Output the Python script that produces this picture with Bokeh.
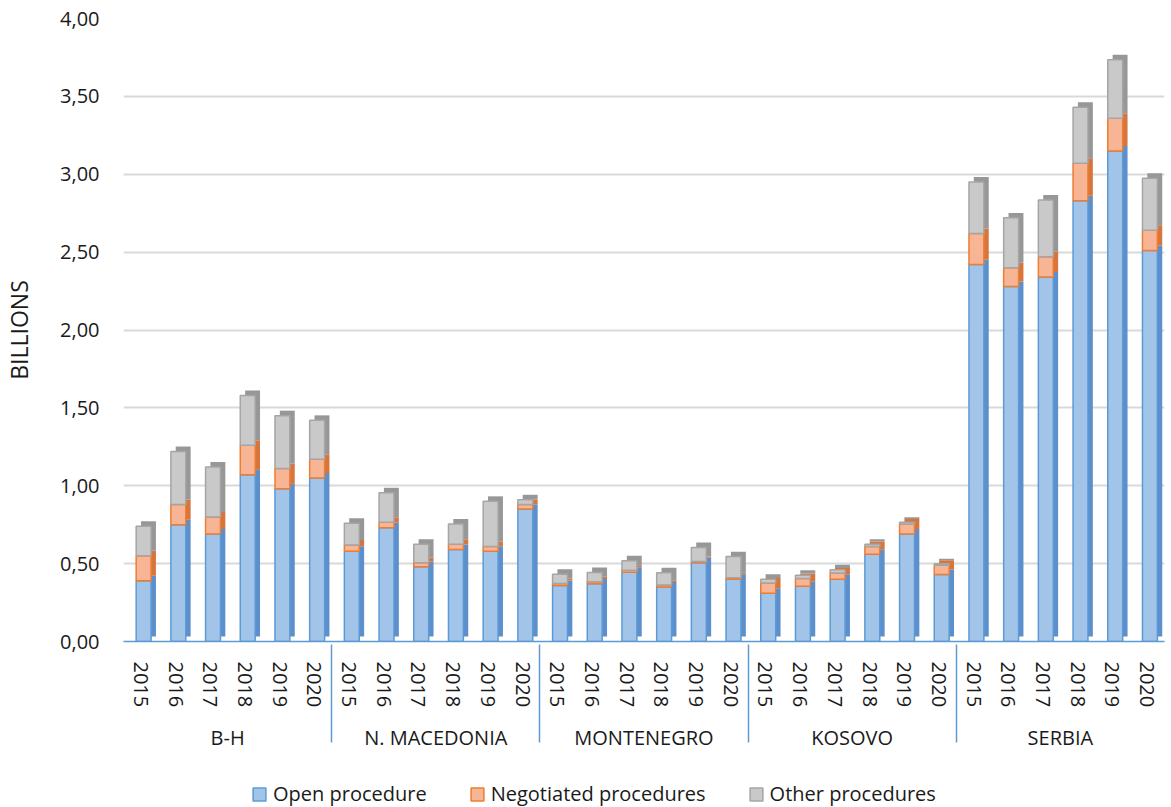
from bokeh.plotting import figure
from bokeh.layouts import column
from bokeh.models import (ColumnDataSource, FactorRange, Range1d, Legend, LegendItem,
                          CustomJSTickFormatter, SingleIntervalTicker)
from bokeh.transform import dodge
from bokeh.embed import file_html
from bokeh.resources import INLINE

countries = ["B-H", "N. MACEDONIA", "MONTENEGRO", "KOSOVO", "SERBIA"]
years = ["2015", "2016", "2017", "2018", "2019", "2020"]

open_procedure = [0.39, 0.75, 0.69, 1.07, 0.98, 1.05,
                  0.58, 0.73, 0.48, 0.59, 0.58, 0.85,
                  0.36, 0.37, 0.445, 0.35, 0.505, 0.40,
                  0.31, 0.355, 0.40, 0.56, 0.69, 0.43,
                  2.42, 2.28, 2.34, 2.83, 3.15, 2.51]
negotiated_procedures = [0.16, 0.13, 0.11, 0.19, 0.13, 0.12,
                         0.04, 0.035, 0.025, 0.035, 0.03, 0.03,
                         0.012, 0.013, 0.013, 0.012, 0.008, 0.01,
                         0.065, 0.05, 0.04, 0.05, 0.065, 0.06,
                         0.20, 0.12, 0.13, 0.24, 0.21, 0.13]
other_procedures = [0.19, 0.34, 0.32, 0.32, 0.34, 0.25,
                    0.14, 0.19, 0.12, 0.13, 0.29, 0.03,
                    0.06, 0.06, 0.06, 0.08, 0.09, 0.135,
                    0.025, 0.02, 0.02, 0.015, 0.01, 0.01,
                    0.33, 0.32, 0.365, 0.36, 0.375, 0.335]

series_names = ["Open procedure", "Negotiated procedures", "Other procedures"]

FONT = "Open Sans"
DY = 0.032  # 3D depth offset (value units)

factors = [(c, y) for c in countries for y in years]
b0 = [0.0] * len(factors)
b1 = open_procedure
b2 = [a + b for a, b in zip(open_procedure, negotiated_procedures)]
b3 = [a + b for a, b in zip(b2, other_procedures)]

src = ColumnDataSource(dict(
    x=factors, b0=b0, b1=b1, b2=b2, b3=b3,
    s0=[v + DY for v in b0], s1=[v + DY for v in b1],
    s2=[v + DY for v in b2], s3=[v + DY for v in b3],
))

x_range = FactorRange(*factors, factor_padding=0, group_padding=0,
                      subgroup_padding=0, range_padding=0)

p = figure(x_range=x_range, y_range=Range1d(0, 4),
           frame_width=1041, frame_height=623,
           output_backend="svg", toolbar_location=None,
           min_border_left=120, min_border_right=2, min_border_top=18,
           min_border_bottom=140)
p.outline_line_color = None
p.background_fill_color = "white"

fronts = [("b0", "b1", "#A2C4E9", "#5B9BD5"),
          ("b1", "b2", "#F7B595", "#ED7D31"),
          ("b2", "b3", "#C9C9C9", "#A5A5A5")]
sides = [("s0", "s1", "#5C8FCB"),
         ("s1", "s2", "#D8753C"),
         ("s2", "s3", "#979797")]

W = 0.43
for bot, top, col in sides:
    p.vbar(x=dodge("x", 0.22, range=p.x_range), bottom=bot, top=top, width=W,
           source=src, fill_color=col, line_color=None)

for bot, top, fill, line in fronts:
    p.vbar(x=dodge("x", 0.08, range=p.x_range), bottom=bot, top=top, width=W,
           source=src, fill_color=fill, line_color=line, line_width=1.5)

# y axis
yax = p.yaxis[0]
yax.ticker = SingleIntervalTicker(interval=0.5)
yax.formatter = CustomJSTickFormatter(code="return tick.toFixed(2).replace('.', ',');")
yax.axis_line_color = None
yax.major_tick_line_color = None
yax.minor_tick_line_color = None
yax.major_label_text_font = FONT
yax.major_label_text_font_size = "20px"
yax.major_label_text_color = "#1a1a1a"
yax.major_label_standoff = 18
yax.axis_label = "BILLIONS"
yax.axis_label_text_font = FONT
yax.axis_label_text_font_size = "23px"
yax.axis_label_text_font_style = "normal"
yax.axis_label_text_color = "#1a1a1a"
yax.axis_label_standoff = 22

p.ygrid.grid_line_color = "#D9D9D9"
p.ygrid.grid_line_width = 2
p.xgrid.grid_line_color = None

# x axis
xax = p.xaxis[0]
xax.axis_line_color = "#5B9BD5"
xax.axis_line_width = 1.5
xax.major_tick_line_color = None
xax.minor_tick_line_color = None
xax.major_label_orientation = "vertical"
xax.major_label_text_font = FONT
xax.major_label_text_font_size = "20px"
xax.major_label_text_color = "#1a1a1a"
xax.major_label_standoff = 14
xax.group_text_font = FONT
xax.group_text_font_size = "20px"
xax.group_text_font_style = "normal"
xax.group_text_color = "#1a1a1a"
xax.separator_line_color = "#5B9BD5"
xax.separator_line_width = 1.5

# legend strip below the chart
lg = figure(width=1163, height=26, output_backend="svg", toolbar_location=None,
            x_axis_location=None, y_axis_location=None,
            min_border_left=0, min_border_right=0, min_border_top=0, min_border_bottom=0)
lg.outline_line_color = None
lg.xgrid.grid_line_color = None
lg.ygrid.grid_line_color = None
nan = float("nan")
leg_renderers = []
for _, _, fill, line in fronts:
    r = lg.vbar(x=[nan], top=[nan], width=1, fill_color=fill, line_color=line, line_width=1.5)
    leg_renderers.append(r)

legend = Legend(items=[LegendItem(label=n, renderers=[r]) for n, r in zip(series_names, leg_renderers)],
                orientation="horizontal", location=(128, 0),
                label_text_font=FONT, label_text_font_size="20px",
                label_text_color="#1a1a1a", glyph_width=16, glyph_height=16,
                spacing=42, label_standoff=6, padding=0, margin=0,
                border_line_color=None, background_fill_alpha=0)
lg.add_layout(legend, "center")

layout = column(p, lg, spacing=0)
open("out.html", "w").write(file_html(layout, INLINE))
